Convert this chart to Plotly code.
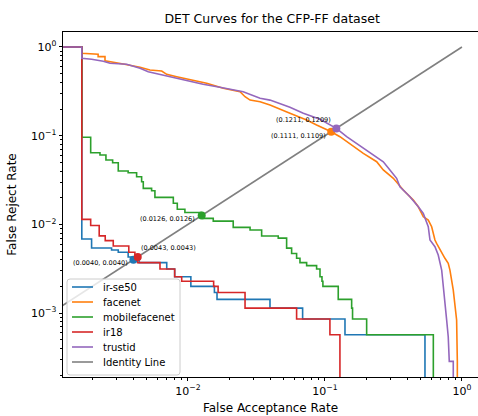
import numpy as np
import plotly.graph_objects as go

# DET curve corner points (FAR, FRR) for each model on CFP-FF.
# FAR = 0 at the first point and FRR = 0 at the last point.
irse50_far = [0, 0.00168, 0.00168, 0.00198, 0.00198, 0.00277, 0.00277, 0.0031, 0.0031,
              0.00366, 0.00366, 0.0040, 0.0040, 0.0044, 0.0044, 0.0070, 0.0070, 0.0080, 0.0080,
              0.0105, 0.0105, 0.0156, 0.0156, 0.0163, 0.0163, 0.0397, 0.0397, 0.0687, 0.0687,
              0.140, 0.140, 0.537, 0.537]
irse50_frr = [1.0, 1.0, 0.00686, 0.00686, 0.00543, 0.00543, 0.00514, 0.00514, 0.00486,
              0.00486, 0.00429, 0.00429, 0.0040, 0.0040, 0.00371, 0.00371, 0.00314, 0.00314, 0.00257,
              0.00257, 0.0020, 0.0020, 0.00171, 0.00171, 0.00143, 0.00143, 0.00114, 0.00114, 0.000857,
              0.000857, 0.000571, 0.000571, 0]

facenet_far = [0, 0.00168, 0.00168, 0.00198, 0.00221, 0.00221, 0.00248, 0.00248, 0.00285,
               0.00337, 0.00447, 0.00528, 0.00643, 0.0070, 0.00828, 0.0109, 0.0137, 0.0181,
               0.0240, 0.0261, 0.0284, 0.0336, 0.0397, 0.0555, 0.0735, 0.0869, 0.1111, 0.1286,
               0.152, 0.1905, 0.2385, 0.2665, 0.3155, 0.373, 0.4415, 0.480, 0.522, 0.5675, 0.601,
               0.635, 0.653, 0.691, 0.751, 0.794, 0.817, 0.864, 0.889, 0.914, 0.925, 0.925]
facenet_frr = [1.0, 1.0, 0.849, 0.828, 0.828, 0.778, 0.778, 0.700, 0.678,
               0.643, 0.590, 0.550, 0.536, 0.492, 0.463, 0.425, 0.390, 0.342,
               0.313, 0.275, 0.252, 0.242, 0.222, 0.179, 0.150, 0.132, 0.1109, 0.0975,
               0.0806, 0.0633, 0.0509, 0.0411, 0.0331, 0.0244, 0.0188, 0.0158, 0.0122, 0.0112, 0.00942,
               0.00667, 0.00612, 0.00514, 0.00415, 0.00364, 0.00306, 0.00182, 0.00118, 0.000836, 0.000286, 0]

mobile_far = [0, 0.00168, 0.00168, 0.00195, 0.00195, 0.00228, 0.00228, 0.00252, 0.00252,
              0.00282, 0.00282, 0.0031, 0.0031, 0.00366, 0.00366, 0.00422, 0.00422, 0.00459, 0.00459,
              0.00472, 0.00472, 0.00543, 0.00543, 0.00574, 0.00574, 0.00782, 0.00782, 0.00836, 0.00836,
              0.0095, 0.0095, 0.01257, 0.01257, 0.0129, 0.0129, 0.0153, 0.0153, 0.0214, 0.0214,
              0.0284, 0.0284, 0.0345, 0.0345, 0.0456, 0.0456, 0.0525, 0.0525, 0.0571, 0.0571,
              0.0621, 0.0621, 0.0657, 0.0657, 0.0735, 0.0735, 0.0869, 0.0869, 0.0920, 0.0920,
              0.0951, 0.0951, 0.0966, 0.0966, 0.125, 0.125, 0.1566, 0.1566, 0.159, 0.159,
              0.2015, 0.2015, 0.618, 0.618]
mobile_frr = [1.0, 1.0, 0.096, 0.096, 0.0643, 0.0643, 0.0606, 0.0606, 0.0532,
              0.0532, 0.0496, 0.0496, 0.0400, 0.0400, 0.0383, 0.0383, 0.0345, 0.0345, 0.0303,
              0.0303, 0.0255, 0.0255, 0.0240, 0.0240, 0.0202, 0.0202, 0.0173, 0.0173, 0.0148,
              0.0148, 0.0136, 0.0136, 0.01257, 0.01257, 0.0117, 0.0117, 0.0109, 0.0109, 0.00927,
              0.00927, 0.00865, 0.00865, 0.0074, 0.0074, 0.0070, 0.0070, 0.0054, 0.0054, 0.0047,
              0.0047, 0.00415, 0.00415, 0.00371, 0.00371, 0.00343, 0.00343, 0.00314, 0.00314, 0.00257,
              0.00257, 0.00229, 0.00229, 0.0020, 0.0020, 0.00143, 0.00143, 0.00114, 0.00114, 0.000857,
              0.000857, 0.000571, 0.000571, 0]

ir18_far = [0, 0.00168, 0.00168, 0.00195, 0.00195, 0.00225, 0.00225, 0.00249, 0.00249,
            0.00285, 0.00285, 0.0037, 0.0037, 0.0041, 0.0041, 0.00429, 0.00429, 0.00625, 0.00625,
            0.0080, 0.0080, 0.0090, 0.0090, 0.0154, 0.0154, 0.0166, 0.0166, 0.0261, 0.0261,
            0.0621, 0.0621, 0.1087, 0.1087, 0.1286, 0.1286]
ir18_frr = [1.0, 1.0, 0.0114, 0.0114, 0.00971, 0.00971, 0.00743, 0.00743, 0.00657,
            0.00657, 0.00571, 0.00571, 0.00486, 0.00486, 0.00429, 0.00429, 0.00371, 0.00371, 0.00314,
            0.00314, 0.00257, 0.00257, 0.00229, 0.00229, 0.0020, 0.0020, 0.00171, 0.00171, 0.00114,
            0.00114, 0.000857, 0.000857, 0.000571, 0.000571, 0]

trustid_far = [0, 0.00168, 0.00168, 0.00198, 0.00241, 0.0027, 0.00357, 0.00447, 0.00513,
               0.0070, 0.00979, 0.0129, 0.0171, 0.0253, 0.0336, 0.0397, 0.0555, 0.0695, 0.0920,
               0.1211, 0.144, 0.170, 0.2254, 0.2665, 0.298, 0.3335, 0.3525, 0.417, 0.480, 0.522,
               0.5675, 0.584, 0.635, 0.671, 0.711, 0.731, 0.751, 0.773, 0.794, 0.808, 0.864, 0.864]
trustid_frr = [1.0, 1.0, 0.746, 0.727, 0.690, 0.655, 0.638, 0.575, 0.527,
               0.471, 0.414, 0.380, 0.351, 0.313, 0.264, 0.252, 0.209, 0.179, 0.153,
               0.1209, 0.0975, 0.082, 0.0606, 0.0509, 0.0411, 0.0331, 0.0266, 0.0205, 0.0158, 0.0133,
               0.00942, 0.00667, 0.00561, 0.00452, 0.00306, 0.00207, 0.00129, 0.000836, 0.000542,
               0.000286, 0.000286, 0]

# Equal error rate points (FAR, FRR) per model
eer_points = {
    "ir-se50": (0.0040, 0.0040),
    "facenet": (0.1111, 0.1109),
    "mobilefacenet": (0.0126, 0.0126),
    "ir18": (0.0043, 0.0043),
    "trustid": (0.1211, 0.1209),
}

identity_x = [0, 1]
identity_y = [0, 1]

colors = {
    "ir-se50": "#1f77b4",
    "facenet": "#ff7f0e",
    "mobilefacenet": "#2ca02c",
    "ir18": "#d62728",
    "trustid": "#9467bd",
    "Identity Line": "#808080",
}

curves = [
    ("ir-se50", irse50_far, irse50_frr),
    ("facenet", facenet_far, facenet_frr),
    ("mobilefacenet", mobile_far, mobile_frr),
    ("ir18", ir18_far, ir18_frr),
    ("trustid", trustid_far, trustid_frr),
]
legend_names = [c[0] for c in curves] + ["Identity Line"]

# label offsets (pixels) of the EER annotations relative to their points
label_shift = {
    "ir-se50": (-33, -3),
    "facenet": (-33, -4),
    "mobilefacenet": (-34, -3),
    "ir18": (31, 9),
    "trustid": (-33, 8),
}

# zeros cannot sit on a log axis: push them far below the visible range
LOG_FLOOR = 1e-6


def clip_log(values):
    arr = np.asarray(values, dtype=float)
    return np.where(arr > 0, arr, LOG_FLOOR)


FONT = "DejaVu Sans"
W, H = 478, 416
PLOT_L, PLOT_R, PLOT_T, PLOT_B = 63, 478, 32, 377


def px(x):
    return (x - PLOT_L) / (PLOT_R - PLOT_L)


def py(y):
    return (PLOT_B - y) / (PLOT_B - PLOT_T)


fig = go.Figure()

for name, far, frr in curves:
    fig.add_trace(go.Scatter(
        x=clip_log(far), y=clip_log(frr), mode="lines", name=name,
        line=dict(color=colors[name], width=1.6), showlegend=False,
    ))

fig.add_trace(go.Scatter(
    x=clip_log(identity_x), y=clip_log(identity_y), mode="lines", name="Identity Line",
    line=dict(color=colors["Identity Line"], width=1.6), showlegend=False,
))

for name, _, _ in curves:
    ex, ey = eer_points[name]
    fig.add_trace(go.Scatter(
        x=[ex], y=[ey], mode="markers", showlegend=False,
        marker=dict(color=colors[name], size=8, line=dict(width=0)),
    ))
    dx, dy = label_shift[name]
    fig.add_annotation(
        x=np.log10(ex), y=np.log10(ey), xref="x", yref="y",
        text=f"({ex:.4f}, {ey:.4f})", showarrow=False,
        xshift=dx, yshift=dy, font=dict(family=FONT, size=6.5, color="black"),
    )

# legend box (rounded frame, semi-transparent white) in the lower-left corner
box_l, box_r, box_t, box_b, rad = 67, 180, 279, 375, 3
rx = rad / (PLOT_R - PLOT_L)
ry = rad / (PLOT_B - PLOT_T)
x0, x1, y0, y1 = px(box_l), px(box_r), py(box_b), py(box_t)
frame = (f"M {x0 + rx},{y0} L {x1 - rx},{y0} Q {x1},{y0} {x1},{y0 + ry} "
         f"L {x1},{y1 - ry} Q {x1},{y1} {x1 - rx},{y1} L {x0 + rx},{y1} "
         f"Q {x0},{y1} {x0},{y1 - ry} L {x0},{y0 + ry} Q {x0},{y0} {x0 + rx},{y0} Z")
fig.add_shape(type="path", path=frame, xref="paper", yref="paper",
              line=dict(color="#cccccc", width=1), fillcolor="rgba(255,255,255,0.8)",
              layer="above")
for i, name in enumerate(legend_names):
    row_y = 287 + 15 * i
    fig.add_shape(type="line", xref="paper", yref="paper",
                  x0=px(72), x1=px(93), y0=py(row_y), y1=py(row_y),
                  line=dict(color=colors[name], width=1.6), layer="above")
    fig.add_annotation(x=px(101), y=py(row_y), xref="paper", yref="paper",
                       text=name, showarrow=False, xanchor="left", yanchor="middle",
                       font=dict(family=FONT, size=10, color="black"))

major_x = [1e-2, 1e-1, 1]
major_y = [1e-3, 1e-2, 1e-1, 1]
exp_text = {1e-3: "10<sup>\u22123</sup>", 1e-2: "10<sup>\u22122</sup>",
            1e-1: "10<sup>\u22121</sup>", 1: "10<sup>0</sup>"}
minor_vals = [m * 10.0 ** k for k in range(-4, 1) for m in range(2, 10)]

axis_common = dict(
    type="log", showgrid=False, zeroline=False,
    showline=True, linecolor="black", linewidth=0.8,
    ticks="outside", ticklen=3.5, tickwidth=0.8, tickcolor="black",
    tickfont=dict(family=FONT, size=11, color="black"),
    minor=dict(tickvals=minor_vals, ticks="outside", ticklen=2, tickwidth=0.6,
               tickcolor="black", showgrid=False),
)

fig.update_xaxes(
    **axis_common, range=[-2.912, 0.117], mirror=True,
    tickvals=major_x, ticktext=[exp_text[v] for v in major_x],
    title=dict(text="False Acceptance Rate", font=dict(family=FONT, size=12, color="black"),
               standoff=7),
)
fig.update_yaxes(
    **axis_common, range=[-3.72, 0.169],
    tickvals=major_y, ticktext=[exp_text[v] for v in major_y],
    title=dict(text="False Reject Rate", font=dict(family=FONT, size=12, color="black"),
               standoff=11),
)

fig.update_layout(
    width=W, height=H,
    margin=dict(l=PLOT_L, r=W - PLOT_R, t=PLOT_T, b=H - PLOT_B),
    paper_bgcolor="white", plot_bgcolor="white",
    font=dict(family=FONT, color="black"),
    title=dict(text="DET Curves for the CFP-FF dataset", x=0.504, xref="paper", xanchor="center",
               y=0.955, yref="container", yanchor="middle",
               font=dict(family=FONT, size=12.5, color="black")),
    showlegend=False,
)

fig.write_html("out.html")
